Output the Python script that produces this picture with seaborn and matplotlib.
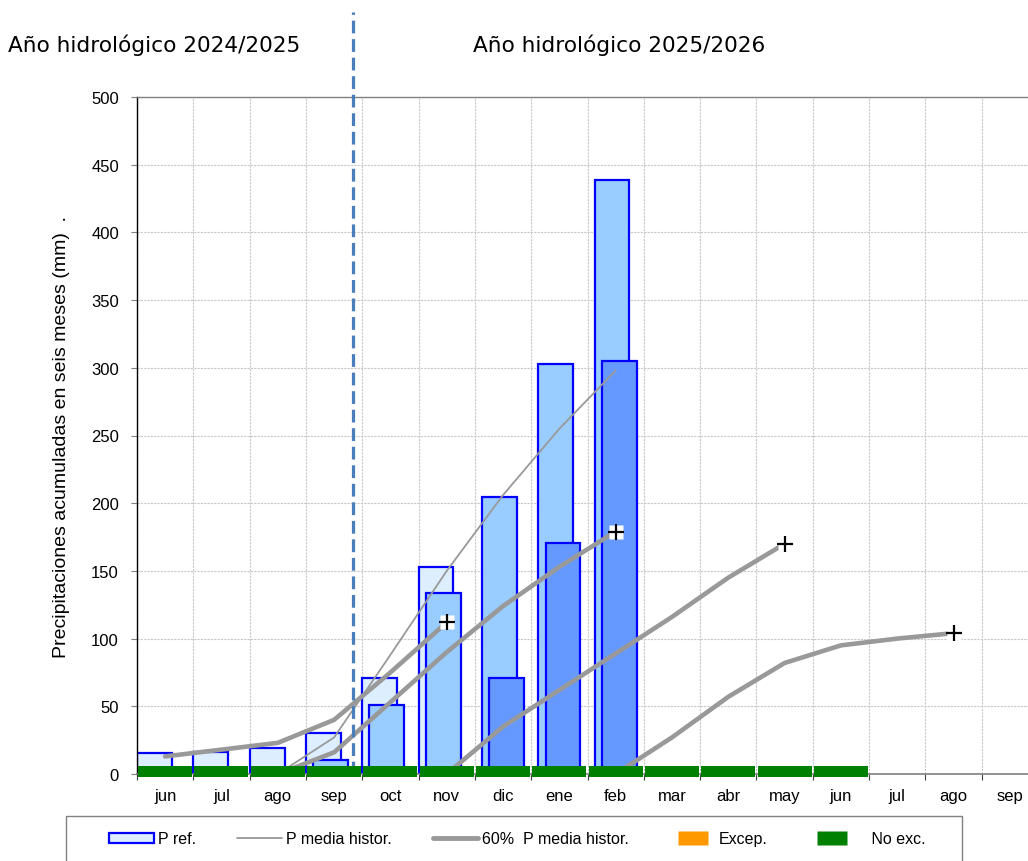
import numpy as np
import matplotlib
matplotlib.use("Agg")
import matplotlib.pyplot as plt
import seaborn as sns
from matplotlib.patches import Patch, Rectangle
from matplotlib.lines import Line2D

# Data (accumulated precipitation, 6-month windows)
months = ["jun", "jul", "ago", "sep", "oct", "nov", "dic", "ene",
          "feb", "mar", "abr", "may", "jun", "jul", "ago", "sep"]

# P ref. bars, three overlapping windows
pref_a_idx = [0, 1, 2, 3, 4, 5]
pref_a = [15.5, 16.5, 19, 30, 70.7, 153]
pref_b_idx = [3, 4, 5, 6, 7, 8]
pref_b = [10.6, 51.2, 133.4, 204.6, 302.8, 439]
pref_c_idx = [6, 7, 8]
pref_c = [70.7, 170.4, 305]

# P media histor.
media_idx = [2, 3, 4, 5, 6, 7, 8]
media = [0, 27, 88, 150, 206, 255, 298]

# 60% P media histor.
p60_a_idx = [0, 1, 2, 3, 4, 5]
p60_a = [13, 18, 23, 40, 75, 112]
p60_b_idx = [2, 3, 4, 5, 6, 7, 8]
p60_b = [0, 16, 53, 90, 124, 153, 179]
p60_c_idx = [5, 6, 7, 8, 9, 10, 11]
p60_c = [0, 35, 62, 89, 116, 145, 170]
p60_d_idx = [8, 9, 10, 11, 12, 13, 14]
p60_d = [0, 27, 57, 82, 95, 100, 104]

# Exceptionality flags per month
noexc = [1] * 13 + [0] * 3
excep = [0] * 16

# Styling
sns.set_theme(style="white")
plt.rcParams["font.family"] = ["Liberation Sans", "DejaVu Sans"]
plt.rcParams.update({
    "text.color": "black",
    "axes.labelcolor": "black",
    "xtick.color": "black",
    "ytick.color": "black",
})

C_LIGHT = "#DDEEFF"
C_MED = "#99CCFF"
C_DARK = "#6699FF"
C_EDGE = "#0000FF"
C_GRAY = "#999999"
C_GREEN = "#008000"
C_ORANGE = "#FF9900"

fig = plt.figure(figsize=(10.28, 8.62), dpi=100)
ax = fig.add_axes([137 / 1028, 87 / 862, 901 / 1028, 677 / 862])

# grid at month boundaries / every 50 mm
ax.set_xticks(np.arange(-0.5, 16, 1.0))
ax.set_xticks(np.arange(16), minor=True)
ax.set_xticklabels([])
ax.set_xticklabels(months, minor=True)
ax.grid(True, which="major", color="#C8C8C8", ls=(0, (2, 1)), lw=0.8)
ax.set_axisbelow(True)

# bars
bar_kw = dict(width=0.62, edgecolor=C_EDGE, linewidth=1.6)
ax.bar(np.array(pref_a_idx) - 0.19, pref_a, color=C_LIGHT, zorder=2, **bar_kw)
ax.bar(np.array(pref_b_idx) - 0.065, pref_b, color=C_MED, zorder=2, **bar_kw)
ax.bar(np.array(pref_c_idx) + 0.065, pref_c, color=C_DARK, zorder=2, **bar_kw)

# lines
sns.lineplot(x=media_idx, y=media, ax=ax, color=C_GRAY, lw=1.3, zorder=3)
for idx, vals in [(p60_a_idx, p60_a), (p60_b_idx, p60_b),
                  (p60_c_idx, p60_c), (p60_d_idx, p60_d)]:
    sns.lineplot(x=idx, y=vals, ax=ax, color=C_GRAY, lw=3.3, zorder=3)
    ax.plot(idx[-1], vals[-1], marker="s", ms=10, mfc="white", mec="none", zorder=4)
    ax.plot(idx[-1], vals[-1], marker="+", ms=11, mew=1.6, color="black", zorder=5)

# hydrological-year separator
ax.plot([3.34, 3.34], [0, 563], color="#4A7EBB", lw=2.3, ls=(0, (4, 1.8)),
        clip_on=False, zorder=4)

# exceptionality strip
x_all = np.arange(len(months))
ax.bar(x_all, [8.6 * v for v in noexc], bottom=-2.5, width=0.96,
       color=C_GREEN, linewidth=0, zorder=6, clip_on=False)
ax.bar(x_all, [8.6 * v for v in excep], bottom=-2.5, width=0.96,
       color=C_ORANGE, linewidth=0, zorder=6, clip_on=False)

ax.set_xlim(-0.5, 15.5)
ax.set_ylim(0, 500)
ax.set_yticks(np.arange(0, 501, 50))

for side in ["top", "right"]:
    ax.spines[side].set_color("#808080")
    ax.spines[side].set_linewidth(1.0)
ax.spines["left"].set_color("black")
ax.spines["left"].set_linewidth(1.0)
ax.spines["bottom"].set_color("#808080")
ax.spines["bottom"].set_linewidth(1.2)

ax.tick_params(axis="y", which="major", direction="out", length=4, width=0.8,
               color="#808080", labelsize=12, pad=9, left=True)
ax.tick_params(axis="x", which="major", direction="out", length=4, width=0.8,
               color="#404040", bottom=True)
ax.tick_params(axis="x", which="minor", length=0, labelsize=12, pad=10)

ax.set_ylabel("Precipitaciones acumuladas en seis meses (mm)  .", fontsize=14,
              labelpad=15)

fig.text(8 / 1028, 1 - 45 / 862, "Año hidrológico 2024/2025", fontsize=15.6,
         family="DejaVu Sans", va="center", ha="left")
fig.text(473 / 1028, 1 - 45 / 862, "Año hidrológico 2025/2026", fontsize=15.6,
         family="DejaVu Sans", va="center", ha="left")

# legend
rect_marker = [(-1, -0.5), (1, -0.5), (1, 0.5), (-1, 0.5), (-1, -0.5)]
handles = [
    Patch(facecolor=C_LIGHT, edgecolor=C_EDGE, linewidth=1.6),
    Line2D([], [], color=C_GRAY, lw=1.3),
    Line2D([], [], color=C_GRAY, lw=3.5),
    Line2D([], [], ls="none", marker=rect_marker, ms=21, mfc=C_ORANGE, mec="none"),
    Line2D([], [], ls="none", marker=rect_marker, ms=21, mfc=C_GREEN, mec="none"),
]
labels = ["P ref.", "P media histor.", "60%  P media histor.", "Excep.", "   No exc."]
fig.legend(handles, labels, ncol=5, loc="center left",
           bbox_to_anchor=(109 / 1028, 1 - 840 / 862), frameon=False,
           fontsize=11.5, handlelength=2.8, handleheight=0.65, handletextpad=0.25,
           columnspacing=2.6, borderpad=0, borderaxespad=0)
fig.patches.append(Rectangle((66 / 1028, -0.01), 896 / 1028, 1 - 817 / 862 + 0.01,
                             transform=fig.transFigure, fill=False,
                             edgecolor="#808080", lw=1.0))

fig.savefig("out.png", dpi=100)
